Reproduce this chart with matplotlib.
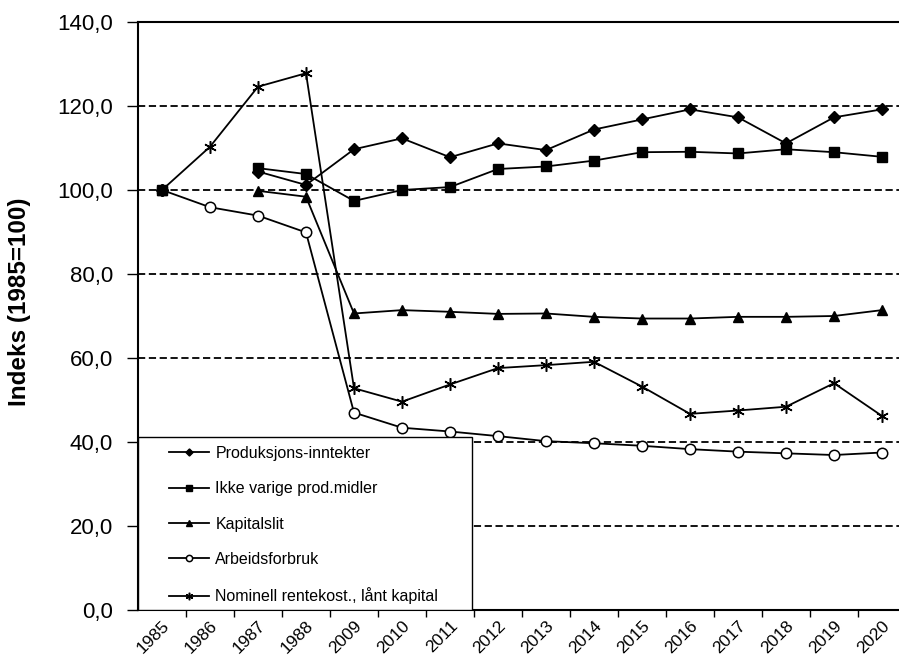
import numpy as np
import matplotlib
matplotlib.use("Agg")
import matplotlib.pyplot as plt
from matplotlib.patches import Rectangle
from matplotlib.ticker import FixedLocator, FuncFormatter

plt.rcParams['font.family'] = ['Liberation Sans', 'DejaVu Sans']

# data (index, 1985=100)
years = ["1985", "1986", "1987", "1988", "2009", "2010", "2011", "2012",
         "2013", "2014", "2015", "2016", "2017", "2018", "2019", "2020"]
nan = np.nan
produksjon = [100, nan, 104.4, 101.2, 109.7, 112.3, 107.8, 111.1,
              109.5, 114.4, 116.8, 119.2, 117.3, 111.1, 117.3, 119.2]
ikke_varige = [100, nan, 105.2, 103.8, 97.4, 100.0, 100.7, 105.0,
               105.6, 107.0, 109.0, 109.1, 108.7, 109.7, 109.0, 107.9]
kapitalslit = [100, nan, 99.8, 98.4, 70.6, 71.4, 71.0, 70.5,
               70.6, 69.8, 69.4, 69.4, 69.8, 69.8, 70.0, 71.4]
arbeid = [100, 95.9, 93.9, 89.9, 47.0, 43.4, 42.5, 41.4,
          40.2, 39.7, 39.1, 38.3, 37.7, 37.3, 36.9, 37.5]
rente = [100, 110.3, 124.6, 127.8, 52.8, 49.6, 53.7, 57.6,
         58.3, 59.1, 53.2, 46.7, 47.5, 48.4, 54.0, 46.2]

labels = ["Produksjons-inntekter", "Ikke varige prod.midler", "Kapitalslit",
          "Arbeidsforbruk", "Nominell rentekost., lånt kapital"]

fig = plt.figure(figsize=(8.99, 6.6), dpi=100)
ax = fig.add_axes([138 / 899, 50 / 660, 768 / 899, 588 / 660])

x = np.arange(len(years))
lw = 1.3
ax.plot(x, produksjon, color="black", lw=lw, marker="D", ms=6, mfc="black", label=labels[0], zorder=3.2)
ax.plot(x, ikke_varige, color="black", lw=lw, marker="s", ms=7.5, mfc="black", label=labels[1], zorder=3.5)
ax.plot(x, kapitalslit, color="black", lw=lw, marker="^", ms=7.5, mfc="black", label=labels[2], zorder=3.1)
ax.plot(x, arbeid, color="black", lw=lw, marker="o", ms=7.5, mfc="white", mew=1.1, label=labels[3], zorder=3)
ax.plot(x, rente, color="black", lw=lw, marker=(6, 2, 0), ms=9, mew=1.1, label=labels[4], zorder=3)

ax.set_xlim(-0.5, len(years) - 0.5)
ax.set_ylim(0, 140)

for v in range(20, 140, 20):
    ax.axhline(v, color="black", lw=1.3, dashes=(4, 2), zorder=1)

for s in ["left", "top", "bottom"]:
    ax.spines[s].set_linewidth(1.5)
ax.spines["right"].set_visible(False)

ax.yaxis.set_major_locator(FixedLocator(range(0, 141, 20)))
ax.yaxis.set_major_formatter(FuncFormatter(lambda v, p: f"{v:.1f}".replace(".", ",")))
ax.tick_params(axis="y", direction="out", length=8, width=1, pad=10, labelsize=16)

ax.set_xticks(x)
ax.set_xticklabels(years, rotation=45, ha="right", rotation_mode="anchor", fontsize=12.5)
ax.xaxis.set_minor_locator(FixedLocator(np.arange(0.5, len(years), 1)))
ax.tick_params(axis="x", which="major", length=0, pad=6)
ax.tick_params(axis="x", which="minor", direction="out", length=5, width=1)

fig.text(20 / 899, 1 - 302 / 660, "Indeks (1985=100)", rotation=90, ha="center", va="center",
         fontsize=17.5, fontweight="bold")

box = Rectangle((0, 0), (472 - 138) / 768, (610 - 437) / 588, transform=ax.transAxes,
                facecolor="white", edgecolor="black", lw=1, zorder=4)
ax.add_patch(box)
leg = ax.legend(loc="upper left", bbox_to_anchor=((169 - 138) / 768, (610 - 446) / 588),
                frameon=False, fontsize=11.5, handlelength=2.5, handletextpad=0.4,
                labelspacing=1.27, borderpad=0, borderaxespad=0, markerscale=0.6)
leg.set_zorder(5)

fig.savefig("out.png", dpi=100)
